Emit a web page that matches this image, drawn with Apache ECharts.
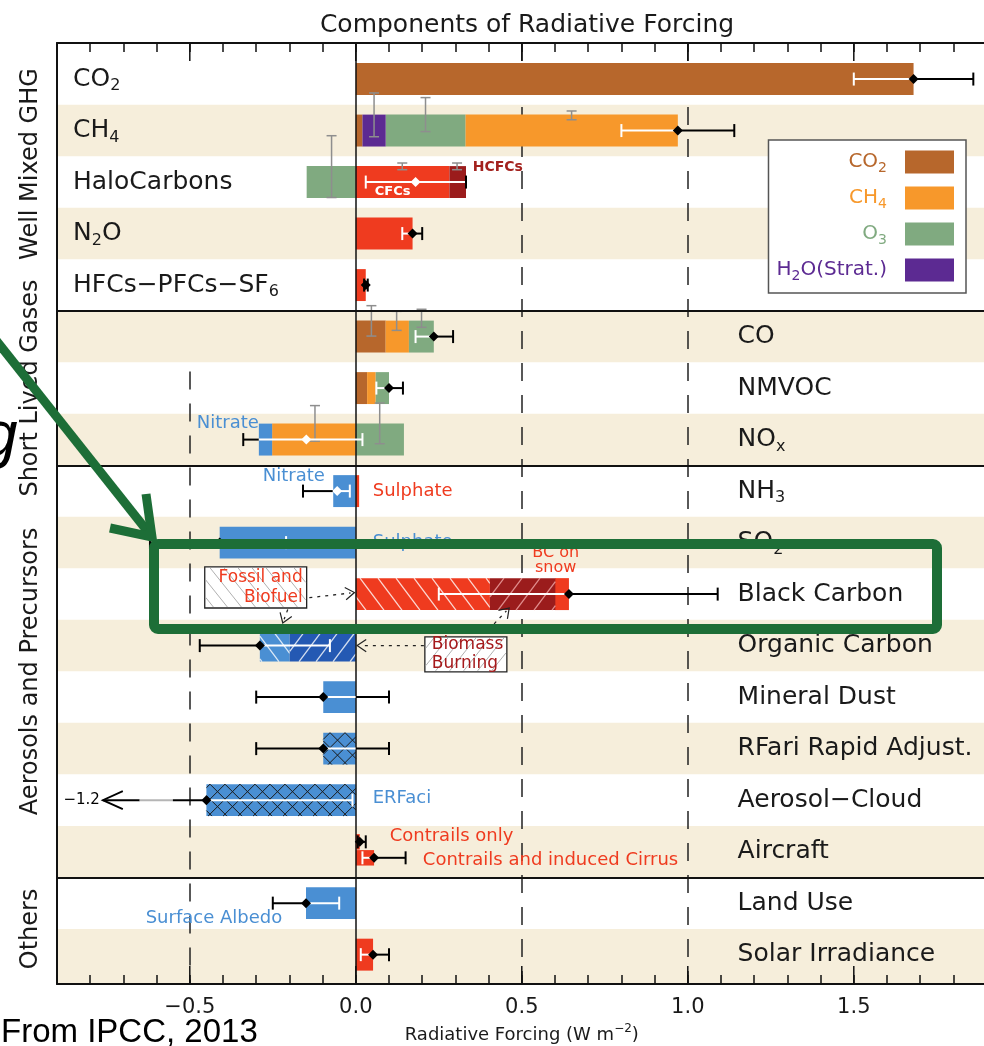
<!DOCTYPE html>
<html>
<head>
<meta charset="utf-8">
<title>Components of Radiative Forcing</title>
<script src="https://cdn.jsdelivr.net/npm/echarts@6/dist/echarts.min.js"></script>
<style>
html,body{margin:0;padding:0;background:#fff;overflow:hidden}
#chart{width:984px;height:1046px}
</style>
</head>
<body>
<div id="chart"></div>
<script>
// ================= DATA (W m-2) =================
const rowLabels = [
  '{m|CO}{s|2}', '{m|CH}{s|4}', '{m|HaloCarbons}', '{m|N}{s|2}{m|O}', '{m|HFCs−PFCs−SF}{s|6}',
  '{m|CO}', '{m|NMVOC}', '{m|NO}{s|x}', '{m|NH}{s|3}', '{m|SO}{s|2}',
  '{m|Black Carbon}', '{m|Organic Carbon}', '{m|Mineral Dust}', '{m|RFari Rapid Adjust.}',
  '{m|Aerosol−Cloud}', '{m|Aircraft}', '{m|Land Use}', '{m|Solar Irradiance}'
];
const sectionNames = ['Well Mixed GHG', 'Short Lived Gases', 'Aerosols and Precursors', 'Others'];
const sectionRows = [[0, 4], [5, 7], [8, 15], [16, 17]];
const shadedRows = [1, 3, 5, 7, 9, 11, 13, 15, 17];
const xTickValues = [-0.5, 0.0, 0.5, 1.0, 1.5];
const xTickLabels = ['−0.5', '0.0', '0.5', '1.0', '1.5'];
const legendNames = ['CO2', 'CH4', 'O3', 'H2O (Strat.)'];
const legendLabels = ['{b|CO}{bs|2}', '{o|CH}{os|4}', '{g|O}{gs|3}', '{p|H}{ps|2}{p|O(Strat.)}'];

// bar segments: [row, start, end]
const segCO2 = [[0, 0, 1.68], [1, 0, 0.02], [5, 0, 0.09], [6, 0, 0.034]];
const segCH4 = [[1, 0.33, 0.97], [5, 0.09, 0.16], [6, 0.034, 0.06], [7, -0.252, 0]];
const segO3 = [[1, 0.09, 0.33], [2, -0.148, 0], [5, 0.16, 0.235], [6, 0.06, 0.10], [7, 0, 0.145]];
const segH2O = [[1, 0.02, 0.09]];
const segRed = [[2, 0, 0.282], [3, 0, 0.171], [4, 0, 0.03], [8, 0, 0.01], [10, 0.60, 0.642], [17, 0, 0.052]];
const segHCFC = [[2, 0.282, 0.332]];
const segBCfossil = [[10, 0, 0.404]];
const segBCbiomass = [[10, 0.404, 0.601]];
const segBlue = [[7, -0.292, -0.252], [8, -0.068, 0], [9, -0.41, 0], [12, -0.098, 0], [16, -0.15, 0]];
const segOCfossil = [[11, -0.289, -0.199]];
const segOCbiomass = [[11, -0.199, 0]];
const segAdjust = [[13, -0.098, 0], [14, -0.45, 0]];
// aircraft: two sub-bars inside row 15 (contrails only, contrails + induced cirrus)
const segAircraft = [[14.81, 0, 0.012], [15.12, 0, 0.055]];

// total forcing and uncertainty: [row, best, low, high]
const totalUnc = [
  [0, 1.68, 1.50, 1.86], [1, 0.97, 0.80, 1.14], [2, 0.18, 0.03, 0.332], [3, 0.171, 0.14, 0.20],
  [4, 0.03, 0.025, 0.036], [5, 0.235, 0.18, 0.293], [6, 0.10, 0.062, 0.142], [7, -0.149, -0.339, 0.02],
  [8, -0.056, -0.159, -0.018], [9, -0.41, -0.62, -0.21], [10, 0.642, 0.25, 1.09], [11, -0.289, -0.47, -0.078],
  [12, -0.098, -0.30, 0.10], [13, -0.098, -0.30, 0.10], [14, -0.45, -1.2, -0.01],
  [14.81, 0.012, 0.006, 0.03], [15.12, 0.055, 0.02, 0.15], [16, -0.15, -0.25, -0.05], [17, 0.052, 0.015, 0.10]
];
// component uncertainty markers: [x, rowTop, rowBottom]
const componentUnc = [
  [0.055, 0.27, 1.12], [0.21, 0.36, 1.02], [0.65, 0.62, 0.79],
  [-0.073, 1.10, 2.30], [0.14, 1.63, 1.76], [0.305, 1.63, 1.76],
  [0.047, 4.40, 4.99], [0.123, 4.51, 4.88], [0.198, 4.47, 4.82],
  [0.072, 6.29, 7.08], [-0.123, 6.34, 7.03]
];

// ================= STYLE / LAYOUT =================
const FONT = "'DejaVu Sans', 'Noto Sans', sans-serif";
const COL = {
  brown: '#b7672c', orange: '#f7982b', green: '#80aa80', purple: '#5c2a92',
  red: '#ef3b1f', darkRed: '#9b1c1c', blue: '#4a8fd3', darkBlue: '#2459b3',
  beige: '#f6eedb', text: '#1a1a1a', hcfc: '#a3221e', biomassText: '#a5191b', green2: '#1d6e37'
};
const X_MIN = -0.9, X_MAX = 1.9, Y_MIN = -0.7, Y_MAX = 17.57;
const BAR_HALF = 0.31, AIR_HALF = 0.15, CAP = 6.5, DIA = 5, EPS = 0.006;
const BREAK = { tip: -0.762, grayFrom: -0.651, grayTo: -0.551 };
const RIGHT_LABEL_X = 1.15;

const allSegs = [segCO2, segCH4, segO3, segH2O, segRed, segHCFC, segBCfossil, segBCbiomass,
  segBlue, segOCfossil, segOCbiomass, segAdjust, segAircraft];
function barExtent(r) {
  let lo = null, hi = null;
  allSegs.forEach(arr => arr.forEach(s => {
    if (Math.abs(s[0] - r) < 1e-6) {
      const a = Math.min(s[1], s[2]), b = Math.max(s[1], s[2]);
      lo = lo === null ? a : Math.min(lo, a);
      hi = hi === null ? b : Math.max(hi, b);
    }
  }));
  return lo === null ? null : [lo, hi];
}
function fmtNum(v) { return (v < 0 ? '−' : '') + Math.abs(v).toFixed(1); }
function ln(x1, y1, x2, y2, stroke, w) {
  return { type: 'line', shape: { x1, y1, x2, y2 }, style: { stroke, lineWidth: w || 1 } };
}
function hatch(x0, y0, x1, y1, dir, spacing, k, style) {
  const out = [], h = y1 - y0;
  const cStart = Math.floor((x0 - k * h) / spacing) * spacing;
  for (let c = cStart; c <= x1 + k * h; c += spacing) {
    const ta = (x0 - c) / (dir * k), tb = (x1 - c) / (dir * k);
    const t0 = Math.max(0, Math.min(ta, tb)), t1 = Math.min(h, Math.max(ta, tb));
    if (t1 - t0 > 0.5) out.push({ type: 'line', shape: { x1: c + dir * k * t0, y1: y0 + t0, x2: c + dir * k * t1, y2: y0 + t1 }, style: Object.assign({}, style) });
  }
  return out;
}
function segmentSeries(name, data, color, opt) {
  opt = opt || {};
  return {
    type: 'custom', name, data, z: 3, silent: true,
    itemStyle: { color },
    encode: { x: [1, 2], y: 0 },
    renderItem(params, api) {
      const r = api.value(0), a = api.value(1), b = api.value(2);
      const pa = api.coord([a, r]), pb = api.coord([b, r]);
      const half = api.size([0, 1])[1] * (opt.half || BAR_HALF);
      const x0 = Math.min(pa[0], pb[0]), x1 = Math.max(pa[0], pb[0]);
      const y0 = pa[1] - half, y1 = pa[1] + half;
      const kids = [{ type: 'rect', shape: { x: x0, y: y0, width: x1 - x0, height: y1 - y0 }, style: { fill: color } }];
      (opt.hatch || []).forEach(h => kids.push(...hatch(x0, y0, x1, y1, h.dir, h.sp, h.k, h.style)));
      return { type: 'group', children: kids };
    }
  };
}

const ROW_RICH = {
  m: { fontSize: 25, fontFamily: FONT, color: COL.text, lineHeight: 30 },
  s: { fontSize: 16, fontFamily: FONT, color: COL.text, lineHeight: 30, padding: [14, 0, 0, 0] }
};
const legendRich = {};
[['b', COL.brown], ['o', COL.orange], ['g', COL.green], ['p', COL.purple]].forEach(([k, c]) => {
  legendRich[k] = { color: c, fontSize: 20, fontFamily: FONT, lineHeight: 23 };
  legendRich[k + 's'] = { color: c, fontSize: 14, fontFamily: FONT, lineHeight: 23, padding: [12, 0, 0, 0] };
});

const whiteHatch = { stroke: 'rgba(255,255,255,0.8)', lineWidth: 1.3 };
const pinkHatch = { stroke: 'rgba(255,190,190,0.7)', lineWidth: 1.3 };
const blackHatch = { stroke: '#1a1a1a', lineWidth: 1 };

function xAxisCfg(pos, labels) {
  return {
    type: 'value', position: pos, min: X_MIN, max: X_MAX, interval: 0.1, z: 10,
    axisLine: { show: true, onZero: false, lineStyle: { color: '#111', width: 2 } },
    axisTick: { show: true, inside: true, length: 9, lineStyle: { color: '#111', width: 1.5 } },
    splitLine: { show: false },
    axisLabel: labels ? {
      show: true, interval: 0, margin: 13, fontSize: 21, fontFamily: FONT, color: COL.text,
      formatter: v => { const i = xTickValues.findIndex(t => Math.abs(t - v) < 1e-6); return i >= 0 ? xTickLabels[i] : ''; }
    } : { show: false },
    name: labels ? '{n|Radiative Forcing (W m}{sup|−2}{n|)}' : '',
    nameLocation: 'middle', nameGap: 36,
    nameTextStyle: {
      rich: {
        n: { fontSize: 18, fontFamily: FONT, color: COL.text, lineHeight: 22 },
        sup: { fontSize: 12, fontFamily: FONT, color: COL.text, lineHeight: 22, padding: [0, 0, 12, 0] }
      }
    }
  };
}

const option = {
  animation: false,
  backgroundColor: '#fff',
  title: {
    text: 'Components of Radiative Forcing', left: 522, top: 8, textAlign: 'center',
    textStyle: { fontSize: 25, fontWeight: 'normal', color: COL.text, fontFamily: FONT }
  },
  grid: { left: 57, top: 43, width: 929.6, bottom: 62, outerBoundsMode: 'none', containLabel: false },
  xAxis: [xAxisCfg('bottom', true), xAxisCfg('top', false)],
  yAxis: {
    type: 'value', inverse: true, min: Y_MIN, max: Y_MAX, z: 10,
    axisLine: { show: true, onZero: false, lineStyle: { color: '#111', width: 2 } },
    axisTick: { show: false }, axisLabel: { show: false }, splitLine: { show: false }
  },
  legend: {
    orient: 'vertical', right: 18, top: 140, align: 'right',
    itemWidth: 49, itemHeight: 23, itemGap: 10,
    padding: [9, 12, 10, 8],
    backgroundColor: '#fff', borderColor: '#555', borderWidth: 1.5,
    selectedMode: false,
    data: legendNames.map((n, i) => ({ name: n, icon: 'rect', itemStyle: { color: [COL.brown, COL.orange, COL.green, COL.purple][i] } })),
    formatter: n => legendLabels[legendNames.indexOf(n)],
    textStyle: { rich: legendRich, padding: [0, 13, 0, 0] }
  },
  series: [
    { // shaded row bands + dashed reference lines
      type: 'custom', name: 'bands', z: 1, silent: true,
      data: shadedRows.map(r => [r]), encode: { y: 0 },
      renderItem(params, api) {
        const r = api.value(0), cs = params.coordSys;
        const t = api.coord([0, r - 0.5])[1];
        let b = api.coord([0, r + 0.5])[1];
        if (r === rowLabels.length - 1) b = cs.y + cs.height;
        return { type: 'rect', shape: { x: cs.x, y: t, width: cs.width, height: b - t }, style: { fill: COL.beige } };
      },
      markLine: {
        silent: true, symbol: 'none', z: 2, label: { show: false },
        lineStyle: { color: '#222', width: 1.5, type: [18, 14] },
        data: [
          { xAxis: 0.5 }, { xAxis: 1.0 },
          [{ coord: [-0.5, 5.68] }, { coord: [-0.5, Y_MAX] }]
        ]
      }
    },
    segmentSeries('CO2', segCO2, COL.brown),
    segmentSeries('CH4', segCH4, COL.orange),
    segmentSeries('O3', segO3, COL.green),
    segmentSeries('H2O (Strat.)', segH2O, COL.purple),
    segmentSeries('Halocarbons & others', segRed, COL.red),
    segmentSeries('HCFCs', segHCFC, COL.darkRed),
    segmentSeries('BC fossil and biofuel', segBCfossil, COL.red, { hatch: [{ dir: 1, sp: 18, k: 0.75, style: whiteHatch }] }),
    segmentSeries('BC biomass burning', segBCbiomass, COL.darkRed, { hatch: [{ dir: -1, sp: 18, k: 0.75, style: pinkHatch }] }),
    segmentSeries('Aerosol (RFari)', segBlue, COL.blue),
    segmentSeries('OC fossil and biofuel', segOCfossil, COL.blue, { hatch: [{ dir: 1, sp: 17, k: 0.75, style: whiteHatch }] }),
    segmentSeries('OC biomass burning', segOCbiomass, COL.darkBlue, { hatch: [{ dir: -1, sp: 17, k: 0.75, style: whiteHatch }] }),
    segmentSeries('Adjustments', segAdjust, COL.blue, { hatch: [{ dir: 1, sp: 15, k: 1, style: blackHatch }, { dir: -1, sp: 15, k: 1, style: blackHatch }] }),
    segmentSeries('Aircraft', segAircraft, COL.red, { half: AIR_HALF }),
    { // component uncertainty markers + solid reference lines
      type: 'custom', name: 'component uncertainty', z: 4, silent: true,
      data: componentUnc, encode: { x: 0, y: [1, 2] },
      renderItem(params, api) {
        const x = api.value(0);
        const p1 = api.coord([x, api.value(1)]), p2 = api.coord([x, api.value(2)]);
        const c = '#8e8e8e';
        return { type: 'group', children: [
          ln(p1[0], p1[1], p2[0], p2[1], c, 1.5),
          ln(p1[0] - 5, p1[1], p1[0] + 5, p1[1], c, 1.5),
          ln(p2[0] - 5, p2[1], p2[0] + 5, p2[1], c, 1.5)
        ] };
      },
      markLine: {
        silent: true, symbol: 'none', z: 6, label: { show: false },
        lineStyle: { color: '#111', width: 2, type: 'solid' },
        data: [
          { xAxis: 0, lineStyle: { width: 1.5 } },
          { yAxis: sectionRows[0][1] + 0.5 }, { yAxis: sectionRows[1][1] + 0.5 }, { yAxis: sectionRows[2][1] + 0.5 }
        ]
      }
    },
    { // total forcing + uncertainty
      type: 'custom', name: 'total', z: 7, silent: true,
      data: totalUnc, encode: { x: [1, 2, 3], y: 0 },
      renderItem(params, api) {
        const r = api.value(0), best = api.value(1), lo = api.value(2), hi = api.value(3);
        const ext = barExtent(r);
        const y = api.coord([0, r])[1];
        const X = v => api.coord([v, r])[0];
        const broken = lo < X_MIN;
        const start = broken ? BREAK.tip : lo;
        let pts = [start, hi];
        if (ext) pts.push(ext[0], ext[1]);
        if (broken) pts.push(BREAK.grayFrom, BREAK.grayTo);
        pts = pts.filter(v => v >= start && v <= hi).sort((p, q) => p - q);
        const kids = [];
        for (let i = 0; i < pts.length - 1; i++) {
          const p = pts[i], q = pts[i + 1];
          if (q - p < 1e-9) continue;
          const m = (p + q) / 2;
          let col = (ext && m > ext[0] && m < ext[1]) ? '#fff' : '#000';
          if (broken && m > BREAK.grayFrom && m < BREAK.grayTo) col = '#b5b5b5';
          kids.push(ln(X(p), y, X(q), y, col, 2));
        }
        const inside = v => ext && v > ext[0] + EPS && v < ext[1] - EPS;
        (broken ? [hi] : [lo, hi]).forEach(v => kids.push(ln(X(v), y - CAP, X(v), y + CAP, inside(v) ? '#fff' : '#000', 2)));
        if (broken) {
          const tx = X(BREAK.tip);
          kids.push({ type: 'polyline', shape: { points: [[tx + 20, y - 9], [tx, y], [tx + 20, y + 9]] }, style: { stroke: '#000', lineWidth: 1.8, fill: null } });
          kids.push({ type: 'text', style: { text: fmtNum(lo), x: tx - 3, y: y, align: 'right', verticalAlign: 'middle', fontSize: 15, fontFamily: FONT, fill: '#000' } });
        }
        const bx = X(best);
        kids.push({ type: 'polygon', shape: { points: [[bx - DIA, y], [bx, y - DIA], [bx + DIA, y], [bx, y + DIA]] }, style: { fill: inside(best) ? '#fff' : '#000' } });
        return { type: 'group', children: kids };
      }
    }
  ]
};

const chart = echarts.init(document.getElementById('chart'));
chart.setOption(option);

// ================= overlay annotations (anchored through the axes) =================
const P = (x, r) => chart.convertToPixel({ xAxisIndex: 0, yAxisIndex: 0 }, [x, r]);
const g = [];
let gid = 0;
const add = el => { el.id = 'g' + (gid++); el.silent = true; g.push(el); };
const txt = (x, y, text, o) => ({
  type: 'text', x, y, z: o.z || 20,
  style: Object.assign({ text, fill: o.c || COL.text, fontSize: o.fs || 18, fontFamily: o.ff || FONT,
    fontWeight: o.w || 'normal', fontStyle: o.st || 'normal', align: o.align || 'left', verticalAlign: o.va || 'middle' },
    o.lh ? { lineHeight: o.lh } : {}, o.rich ? { rich: o.rich } : {})
});

// row labels
rowLabels.forEach((lab, i) => {
  const left = i <= sectionRows[0][1];
  const p = P(left ? X_MIN : RIGHT_LABEL_X, i);
  add(txt(left ? p[0] + 16 : p[0], p[1], lab, { rich: ROW_RICH }));
});
// section labels (rotated)
const SECTION_NUDGE = [-18, 0, 0, 0];
sectionNames.forEach((n, i) => {
  const [a, b] = sectionRows[i];
  const yc = (P(0, a - 0.5)[1] + P(0, b + 0.5)[1]) / 2 + SECTION_NUDGE[i];
  add({ type: 'text', x: 31, y: yc, rotation: Math.PI / 2, z: 20,
    style: { text: n, fontSize: 24, fontFamily: FONT, fill: COL.text, align: 'center', verticalAlign: 'middle' } });
});
// major ticks
xTickValues.forEach(v => {
  const t = P(v, Y_MIN), b = P(v, Y_MAX);
  add(Object.assign(ln(t[0], t[1], t[0], t[1] + 18, '#111', 1.5), { z: 30 }));
  add(Object.assign(ln(b[0], b[1], b[0], b[1] - 18, '#111', 1.5), { z: 30 }));
});
// in-plot annotations
const notes = [
  ['HCFCs', 0.352, 1.72, { c: COL.hcfc, fs: 14, w: 'bold' }],
  ['CFCs', 0.057, 2.19, { c: '#fff', fs: 13, w: 'bold' }],
  ['Nitrate', -0.479, 6.69, { c: COL.blue }],
  ['Nitrate', -0.280, 7.72, { c: COL.blue }],
  ['Sulphate', 0.051, 8.0, { c: COL.red }],
  ['Sulphate', 0.051, 9.0, { c: COL.blue }],
  ['BC on\nsnow', 0.602, 9.335, { c: COL.red, align: 'center', lh: 15, fs: 16 }],
  ['ERFaci', 0.051, 13.96, { c: COL.blue }],
  ['Surface Albedo', -0.633, 16.29, { c: COL.blue }],
  ['Contrails only', 0.102, 14.71, { c: COL.red }],
  ['Contrails and induced Cirrus', 0.202, 15.16, { c: COL.red }]
];
notes.forEach(([t, x, r, o]) => { const p = P(x, r); add(txt(p[0], p[1], t, o)); });

// explanatory boxes with hatching
function box(xa, ra, xb, rb, dir) {
  const p0 = P(xa, ra), p1 = P(xb, rb);
  add({ type: 'rect', z: 15, shape: { x: p0[0], y: p0[1], width: p1[0] - p0[0], height: p1[1] - p0[1] }, style: { fill: '#fff', stroke: '#222', lineWidth: 1.3 } });
  hatch(p0[0] + 1, p0[1] + 1, p1[0] - 1, p1[1] - 1, dir, 14, 0.8, { stroke: '#b0b0b0', lineWidth: 1 }).forEach(l => { l.z = 15.5; add(l); });
}
box(-0.455, 9.47, -0.148, 10.27, 1);
add(txt(P(-0.16, 9.87)[0], P(-0.16, 9.87)[1], 'Fossil and\nBiofuel', { c: COL.red, align: 'right', lh: 20, z: 16, fs: 17 }));
box(0.208, 10.83, 0.455, 11.51, -1);
add(txt(P(0.229, 11.17)[0], P(0.229, 11.17)[1], 'Biomass\nBurning', { c: COL.biomassText, lh: 19, z: 16, fs: 17 }));

function dottedArrow(xa, ra, xb, rb) {
  const a = P(xa, ra), b = P(xb, rb);
  const ang = Math.atan2(b[1] - a[1], b[0] - a[0]), L = 11, s = 0.6;
  add({ type: 'line', z: 16, shape: { x1: a[0], y1: a[1], x2: b[0] - 4 * Math.cos(ang), y2: b[1] - 4 * Math.sin(ang) }, style: { stroke: '#222', lineWidth: 1.3, lineDash: [3, 5] } });
  add({ type: 'polyline', z: 16, shape: { points: [
    [b[0] - L * Math.cos(ang - s), b[1] - L * Math.sin(ang - s)], [b[0], b[1]],
    [b[0] - L * Math.cos(ang + s), b[1] - L * Math.sin(ang + s)]] }, style: { stroke: '#222', lineWidth: 1.2, fill: null } });
}
dottedArrow(-0.140, 10.07, -0.004, 9.97);
dottedArrow(-0.205, 10.30, -0.22, 10.56);
dottedArrow(0.205, 11.0, 0.004, 11.0);
dottedArrow(0.40, 10.69, 0.462, 10.27);

// green highlight added on the slide
add({ type: 'rect', z: 50, shape: { x: 154, y: 544, width: 783, height: 85, r: 4 }, style: { fill: null, stroke: COL.green2, lineWidth: 10 } });
add({ type: 'polyline', z: 50, shape: { points: [[-5, 339], [152, 537]] }, style: { stroke: COL.green2, lineWidth: 9, fill: null } });
add({ type: 'polyline', z: 50, shape: { points: [[146, 494], [152, 537], [110, 528]] }, style: { stroke: COL.green2, lineWidth: 9, fill: null, lineJoin: 'miter' } });
add(txt(-18, 470, 'g', { ff: "'Liberation Sans', Arial, sans-serif", fs: 64, st: 'italic', va: 'bottom', c: '#000', z: 40 }));
add(txt(1, 1033, 'From IPCC, 2013', { ff: "'Liberation Sans', Arial, sans-serif", fs: 33, c: '#000', z: 40 }));

chart.setOption({ graphic: { elements: g } });
</script>
</body>
</html>
